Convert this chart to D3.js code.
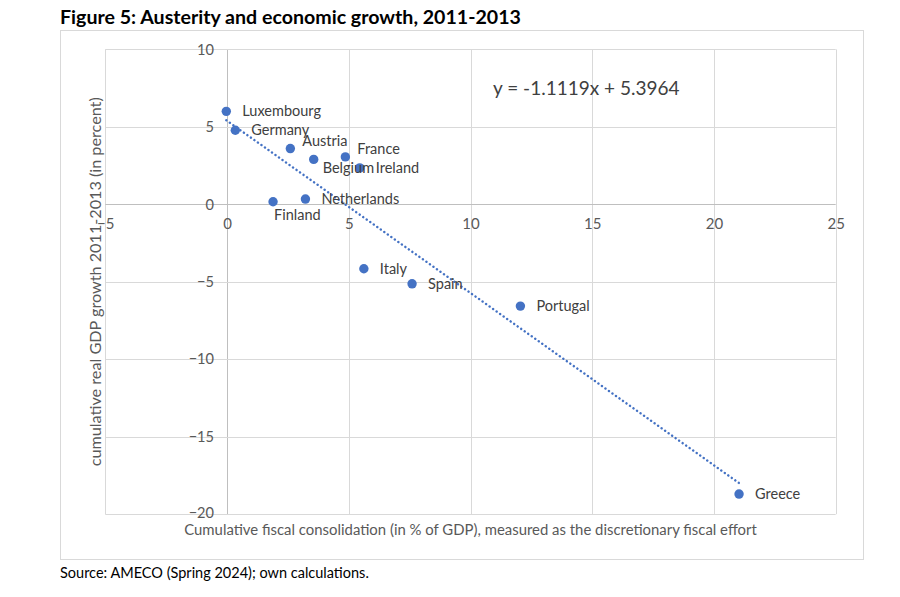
<!DOCTYPE html>
<html>
<head>
<meta charset="utf-8">
<script src="https://cdn.jsdelivr.net/npm/d3@7/dist/d3.min.js"></script>
<style>
  html, body { margin: 0; padding: 0; background: #fff; }
  svg { display: block; font-family: Lato, "Open Sans", sans-serif; }
</style>
</head>
<body>
<svg id="chart" width="900" height="597"></svg>
<script>
const countries = ["Luxembourg","Germany","Austria","Belgium","France","Ireland","Netherlands","Finland","Italy","Spain","Portugal","Greece"];
const fiscalEffort = [-0.03, 0.34, 2.6, 3.56, 4.86, 5.45, 3.22, 1.89, 5.62, 7.6, 12.05, 21.03];
const gdpGrowth = [6.0, 4.78, 3.6, 2.9, 3.06, 2.35, 0.34, 0.17, -4.16, -5.13, -6.57, -18.7];
const labelPlacement = ["right","right","upright","downright","upright","right","right","below","right","right","right","right"];
const xTicks = [-5, 0, 5, 10, 15, 20, 25];
const yTicks = [-20, -15, -10, -5, 0, 5, 10];
const trendSlope = -1.1119;
const trendIntercept = 5.3964;
const equationText = "y = -1.1119x + 5.3964";
const titleText = "Figure 5: Austerity and economic growth, 2011-2013";
const xTitle = "Cumulative fiscal consolidation (in % of GDP), measured as the discretionary fiscal effort";
const yTitle = "cumulative real GDP growth 2011-2013 (in percent)";
const sourceText = "Source: AMECO (Spring 2024); own calculations.";

const svg = d3.select("#chart");
const blue = "#4472C4";
const grid = "#d9d9d9";
const tickCol = "#595959";

const x = d3.scaleLinear().domain([-5, 25]).range([105.3, 835.7]);
const y = d3.scaleLinear().domain([-20, 10]).range([514.2, 49.4]);

// outer chart border
svg.append("rect").attr("x", 60.5).attr("y", 30.5).attr("width", 803).attr("height", 529)
  .attr("fill", "none").attr("stroke", "#d9d9d9").attr("stroke-width", 1);

// title
svg.append("text").attr("x", 60).attr("y", 24).attr("font-weight", 700).attr("font-size", 19.6)
  .attr("fill", "#000").text(titleText);

// gridlines
svg.append("g").selectAll("line").data(xTicks).join("line")
  .attr("x1", d => Math.round(x(d)) + 0.5).attr("x2", d => Math.round(x(d)) + 0.5)
  .attr("y1", y(10)).attr("y2", y(-20))
  .attr("stroke", d => d === 0 ? "#bfbfbf" : grid).attr("stroke-width", 1);
svg.append("g").selectAll("line").data(yTicks).join("line")
  .attr("y1", d => Math.round(y(d)) + 0.5).attr("y2", d => Math.round(y(d)) + 0.5)
  .attr("x1", x(-5)).attr("x2", x(25))
  .attr("stroke", d => d === 0 ? "#bfbfbf" : grid).attr("stroke-width", 1);

// axes with tick labels via d3 axes
const xAxis = d3.axisBottom(x).tickValues(xTicks).tickSize(0).tickPadding(14).tickFormat(d3.format("d"));
const gx = svg.append("g").attr("transform", `translate(0,${y(0)})`).call(xAxis);
gx.select(".domain").remove();
gx.selectAll("text").attr("fill", tickCol).attr("font-size", 15).attr("font-family", "Lato, sans-serif");

const yAxis = d3.axisLeft(y).tickValues(yTicks).tickSize(0).tickPadding(13).tickFormat(d3.format("d"));
const gy = svg.append("g").attr("transform", `translate(${x(0)},0)`).call(yAxis);
gy.select(".domain").remove();
gy.selectAll("text").attr("fill", tickCol).attr("font-size", 14.6).attr("font-family", "Lato, sans-serif");
gy.selectAll(".tick").filter(d => d === -20).select("text").attr("dy", "0.2em");

// axis titles
svg.append("text").attr("x", (x(-5) + x(25)) / 2).attr("y", 535).attr("text-anchor", "middle")
  .attr("font-size", 14.9).attr("fill", tickCol).text(xTitle);
svg.append("text").attr("transform", `translate(101,${(y(10) + y(-20)) / 2}) rotate(-90)`)
  .attr("text-anchor", "middle").attr("font-size", 16.2).attr("fill", tickCol).text(yTitle);

// trendline
const xmin = d3.min(fiscalEffort), xmax = d3.max(fiscalEffort);
svg.append("line")
  .attr("x1", x(xmin)).attr("y1", y(trendSlope * xmin + trendIntercept))
  .attr("x2", x(xmax)).attr("y2", y(trendSlope * xmax + trendIntercept))
  .attr("stroke", blue).attr("stroke-width", 2.4).attr("stroke-linecap", "round")
  .attr("stroke-dasharray", "0.1 4.2");

// equation
svg.append("text").attr("x", 493).attr("y", 95).attr("font-size", 19).attr("fill", "#404040").text(equationText);

const data = countries.map((c, i) => ({ c, fx: fiscalEffort[i], gy: gdpGrowth[i], p: labelPlacement[i] }));

// points
svg.append("g").selectAll("circle").data(data).join("circle")
  .attr("cx", d => x(d.fx)).attr("cy", d => y(d.gy)).attr("r", 4.7).attr("fill", blue);

// labels
const off = { right: [16, 0], upright: [12, -8], downright: [9, 9], below: [1, 13] };
svg.append("g").selectAll("text").data(data).join("text")
  .attr("x", d => x(d.fx) + off[d.p][0]).attr("y", d => y(d.gy) + off[d.p][1])
  .attr("dy", "0.35em").attr("font-size", 14.5).attr("fill", "#404040").text(d => d.c);

// source
svg.append("text").attr("x", 60).attr("y", 578).attr("font-size", 14.5).attr("fill", "#000").text(sourceText);
</script>
</body>
</html>
